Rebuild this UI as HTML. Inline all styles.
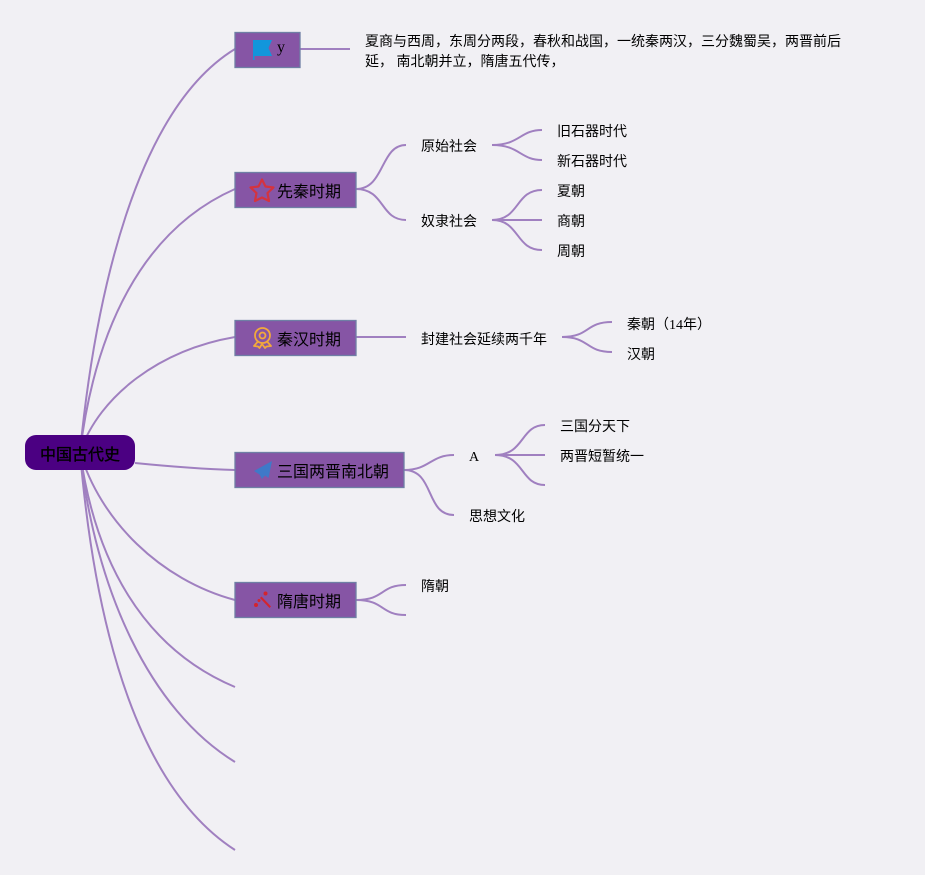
<!DOCTYPE html>
<html lang="zh"><head><meta charset="utf-8"><style>
html,body{margin:0;padding:0;width:925px;height:875px;overflow:hidden;background:#f1f0f4}
svg{position:absolute;left:0;top:0}
text{font-family:"Liberation Serif","Noto Sans CJK SC",serif;fill:#000;font-size:14px}
.n{font-size:16px}
.r{stroke:#000;stroke-width:.35px}
</style></head><body>
<svg width="925" height="875" viewBox="0 0 925 875">
<g fill="none" stroke="#a080c0" stroke-width="2" stroke-linecap="butt">
<path d="M80 452C95 300 135 110 235 49"/>
<path d="M80 452C95 330 142 230 235 189"/>
<path d="M80 452C100 395 160 350 235 337"/>
<path d="M135 463C165 466 200 469 235 470"/>
<path d="M80 452C100 520 160 580 235 600"/>
<path d="M80 452C95 560 142 648 235 687"/>
<path d="M80 452C95 590 150 710 235 762"/>
<path d="M80 452C96 640 142 790 235 850"/>
<path d="M300 49H350"/>
<path d="M356 189C385 189 380 145 406 145"/>
<path d="M356 189C385 189 380 220 406 220"/>
<path d="M492 145C520 145 520 130 542 130"/>
<path d="M492 145C520 145 520 160 542 160"/>
<path d="M492 220C520 220 515 190 542 190"/>
<path d="M492 220H542"/>
<path d="M492 220C520 220 515 250 542 250"/>
<path d="M356 337H406"/>
<path d="M562 337C590 337 585 322 612 322"/>
<path d="M562 337C590 337 585 352 612 352"/>
<path d="M404 470C430 470 430 455 454 455"/>
<path d="M404 470C435 470 425 515 454 515"/>
<path d="M495 455C525 455 520 425 545 425"/>
<path d="M495 455H545"/>
<path d="M495 455C525 455 520 485 545 485"/>
<path d="M356 600C385 600 380 585 406 585"/>
<path d="M356 600C385 600 380 615 406 615"/>
</g>
<rect x="25" y="435" width="110" height="35" rx="11" fill="#4b0082"/>
<g fill="#8655a5" stroke="#6f7fa5" stroke-width="1.3">
<rect x="235" y="32.5" width="65" height="35"/>
<rect x="235" y="172.5" width="121" height="35"/>
<rect x="235" y="320.5" width="121" height="35"/>
<rect x="235" y="452.5" width="169" height="35"/>
<rect x="235" y="582.5" width="121" height="35"/>
</g>
<!-- flag -->
<path d="M253 40H272L268.500 48L272 56H254.500V60H253Z" fill="#1296db"/>
<!-- star -->
<path d="M262 179.500L265.500 186.500L273.500 187.500L267.500 193L269 201L262 197.500L255 201L256.500 193L250.500 187.500L258.500 186.500Z" fill="none" stroke="#d4333f" stroke-width="2.200" stroke-linejoin="round"/>
<!-- medal -->
<g fill="none" stroke="#f2a93b" stroke-width="1.800" stroke-linejoin="round">
<circle cx="262.500" cy="335.500" r="7.500"/>
<circle cx="262.500" cy="335.500" r="3"/>
<path d="M257.500 342L254 346L258 346.500L259.500 348L262 344L265 348L266.500 346.500L271 346L267.500 342"/>
</g>
<!-- plane -->
<path d="M272 461L254 471L259.500 474.500L262 479L265 475.500L268.500 478Z" fill="#3f79c8"/>
<!-- wand -->
<g fill="#d4242e">
<path d="M261.500 596.500L271 606.500L269.500 608L260 598Z"/>
<circle cx="256" cy="605" r="2"/><circle cx="259" cy="600.500" r="1.500"/><circle cx="265.500" cy="593.500" r="2"/>
</g>
<text x="40" y="460" class="n r">中国古代史</text>
<text x="277" y="52" class="n">y</text>
<text x="277" y="197" class="n">先秦时期</text>
<text x="277" y="345" class="n">秦汉时期</text>
<text x="277" y="477" class="n">三国两晋南北朝</text>
<text x="277" y="607" class="n">隋唐时期</text>
<text x="365" y="46">夏商与西周，东周分两段，春秋和战国，一统秦两汉，三分魏蜀吴，两晋前后</text>
<text x="365" y="66">延， 南北朝并立，隋唐五代传，</text>
<text x="421" y="151">原始社会</text>
<text x="421" y="226">奴隶社会</text>
<text x="557" y="136">旧石器时代</text>
<text x="557" y="166">新石器时代</text>
<text x="557" y="196">夏朝</text>
<text x="557" y="226">商朝</text>
<text x="557" y="256">周朝</text>
<text x="421" y="344">封建社会延续两千年</text>
<text x="627" y="329">秦朝（14年）</text>
<text x="627" y="359">汉朝</text>
<text x="469" y="461">A</text>
<text x="469" y="521">思想文化</text>
<text x="560" y="431">三国分天下</text>
<text x="560" y="461">两晋短暂统一</text>
<text x="421" y="591">隋朝</text>
</svg>
</body></html>
